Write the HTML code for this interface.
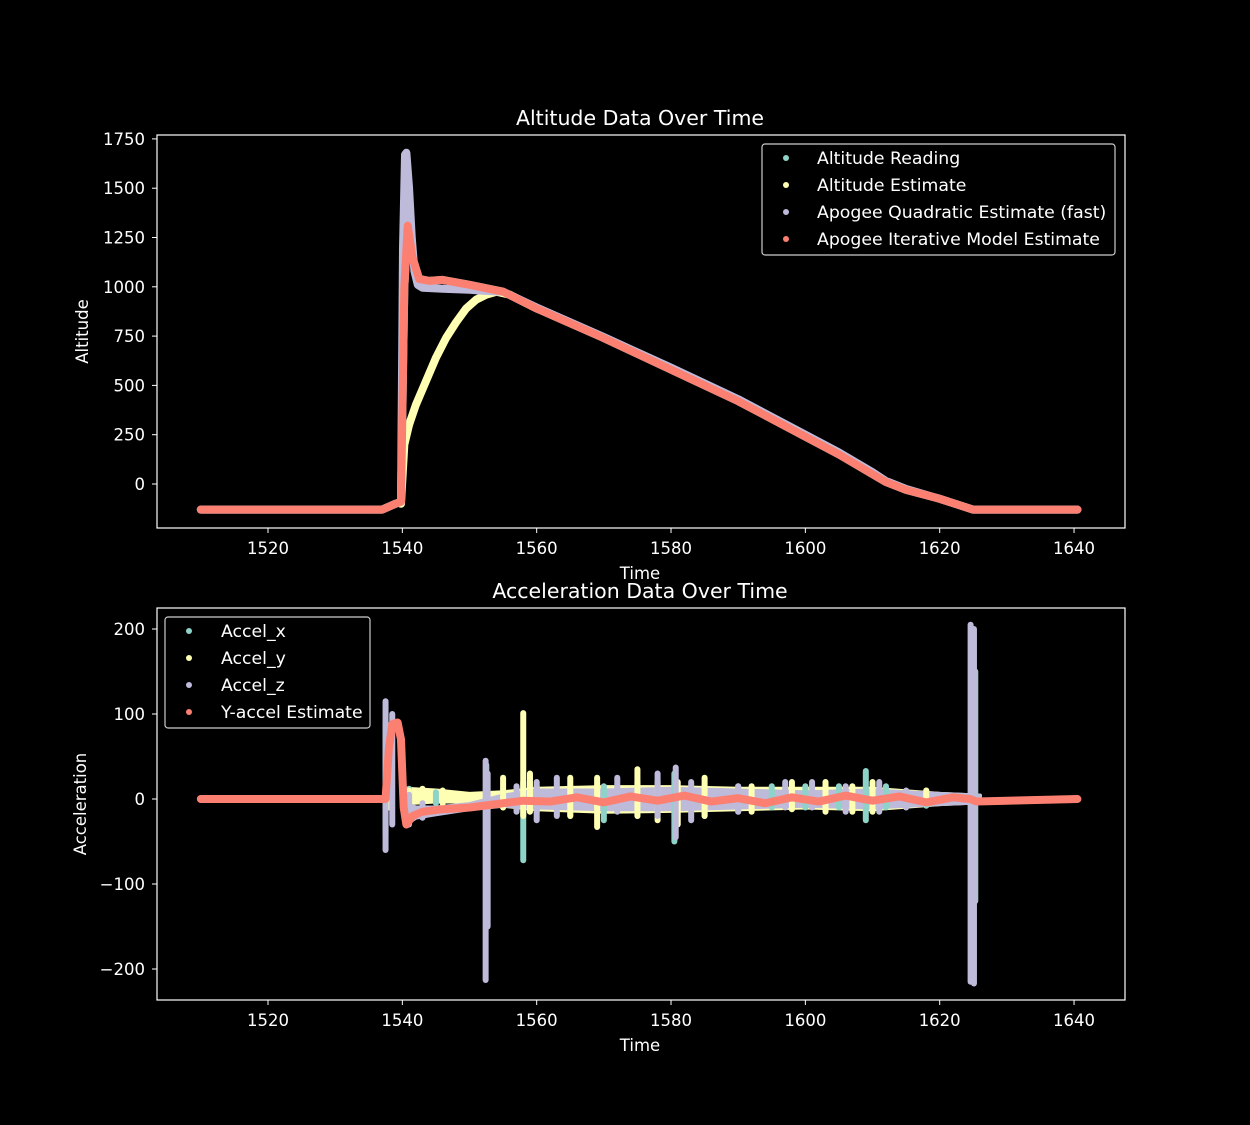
<!DOCTYPE html>
<html><head><meta charset="utf-8"><style>
html,body{margin:0;padding:0;background:#000}
svg{display:block}
text{font-family:"DejaVu Sans","Liberation Sans",sans-serif;fill:#fff}
</style></head><body>
<svg id="fig" width="1250" height="1125" viewBox="0 0 1250 1125">
<rect width="1250" height="1125" fill="#000"/>
</svg>
<script>
// ---- data ----
const xTicks=[1520,1540,1560,1580,1600,1620,1640];
const altTicks=[0,250,500,750,1000,1250,1500,1750];
const accTicks=[-200,-100,0,100,200];
const altReadingT=[1510,1537,1539,1539.8,1540.3,1540.8,1541.5,1542.5,1544,1546,1550,1555,1560,1570,1580,1590,1600,1605,1610,1612,1615,1620,1625,1640.5];
const altReadingV=[-130,-130,-100,-90,1000,1300,1150,1040,1030,1035,1010,975,890,740,580,420,240,150,50,10,-30,-75,-130,-130];
const altEstT=[1539.8,1540.3,1541,1542,1543.5,1545,1546.5,1548,1549.5,1551,1552.5,1554,1556,1560];
const altEstV=[-100,200,300,400,520,640,740,820,890,935,960,975,960,890];
const quadT=[1510,1537,1539,1539.8,1540.1,1540.4,1540.6,1541,1541.4,1541.8,1542.3,1543,1546,1550,1552,1555,1560,1570,1580,1590,1600,1605,1610,1612,1615,1620,1625,1640.5];
const quadV=[-130,-130,-100,-90,1200,1670,1680,1500,1250,1080,1010,995,990,985,980,975,895,745,590,430,250,160,60,15,-25,-75,-130,-130];
const iterT=[1510,1537,1539,1539.8,1540.3,1540.8,1541.5,1542.5,1544,1546,1550,1555,1560,1570,1580,1590,1600,1605,1610,1612,1615,1620,1625,1640.5];
const iterV=[-130,-130,-100,-90,1000,1310,1150,1040,1030,1035,1010,975,890,740,580,420,240,150,50,10,-30,-75,-130,-130];
// acceleration streaks: time, min, max
const axT=[1537.5,1541,1545,1552.5,1555,1558,1560,1565,1570,1575,1580.5,1585,1590,1595,1600,1605,1609,1612,1618,1624.8,1625.3];
const axMin=[-42,-8,-5,-30,-10,-72,-15,-20,-25,-20,-50,-20,-15,-10,-10,-10,-25,-10,-8,-205,-120];
const axMax=[90,12,8,40,10,20,15,15,15,20,30,15,15,15,15,15,33,15,10,180,150];
const ayT=[1538,1541,1543,1546,1552.5,1555,1558,1559,1565,1569,1575,1578,1581,1585,1592,1598,1603,1607,1610,1618,1625];
const ayMin=[-10,-10,-8,-5,-60,-10,-20,-15,-20,-33,-20,-25,-30,-20,-15,-12,-15,-15,-15,-5,-190];
const ayMax=[60,10,12,10,30,25,101,30,25,25,35,20,20,25,15,20,20,15,20,10,190];
const azT=[1537.5,1538.5,1541,1543,1552.4,1552.7,1557,1560,1563,1572,1578,1580.7,1583,1590,1597,1601,1606,1611,1615,1624.6,1625.1];
const azMin=[-60,-30,-30,-22,-213,-150,-15,-25,-20,-15,-20,-45,-25,-15,-10,-10,-15,-15,-10,-215,-217];
const azMax=[115,100,5,-5,45,30,15,20,25,25,30,37,20,15,20,20,15,20,10,205,200];
// dense noise bands: time, low, high
const bandYT=[1540.5,1545,1550,1555,1560,1570,1580,1590,1600,1610,1620,1626];
const bandYLo=[-5,-3,-3,-8,-12,-15,-14,-12,-10,-12,-6,-4];
const bandYHi=[12,10,6,8,12,14,14,12,12,12,6,4];
const bandZT=[1540.5,1542,1545,1550,1555,1560,1570,1580,1590,1600,1610,1620,1626];
const bandZLo=[-30,-22,-18,-12,-8,-10,-12,-12,-10,-8,-10,-6,-4];
const bandZHi=[-5,-10,-10,-6,4,10,10,12,10,8,10,6,4];
const estT=[1510,1537.5,1538,1538.5,1539.3,1539.8,1540.2,1540.6,1541.5,1543,1546,1550,1555,1558,1562,1566,1570,1574,1578,1582,1586,1590,1594,1598,1602,1606,1610,1614,1618,1622,1624.5,1625.5,1640.5];
const estV=[0,0,60,88,90,70,-10,-30,-20,-15,-12,-10,-5,-2,-3,2,-4,3,-2,4,-3,1,-5,2,-3,4,-2,3,-4,2,0,-3,0];

const NS='http://www.w3.org/2000/svg';
const svg=document.getElementById('fig');
function el(tag,attrs,parent){const e=document.createElementNS(NS,tag);for(const k in attrs)e.setAttribute(k,attrs[k]);(parent||svg).appendChild(e);return e;}
const X=v=>268+(v-1520)*6.717;
const Ya=v=>484-v*0.1972;
const Yb=v=>799-v*0.85;
const C={teal:'#8dd3c7',yel:'#ffffb3',lav:'#bebada',sal:'#fb8072'};

function axes(name){
  const g=el('g',{});
  
  
  return g;
}
function frame(g,top,bot,ticks,Y,title,ylabel,ylx){
  const r=el('rect',{x:157,y:top,width:968,height:bot-top,fill:'none',stroke:'#fff','stroke-width':1.2},g);
  
  
  xTicks.forEach(t=>{
    el('line',{x1:X(t),x2:X(t),y1:bot,y2:bot+5,stroke:'#fff'},g);
    const tx=el('text',{x:X(t),y:bot+26,'text-anchor':'middle','font-size':16.5},g);tx.textContent=t;
    
    
  });
  ticks.forEach(t=>{
    el('line',{x1:152,x2:157,y1:Y(t),y2:Y(t),stroke:'#fff'},g);
    const tx=el('text',{x:145,y:Y(t)+6,'text-anchor':'end','font-size':16.5},g);tx.textContent=t<0?'\u2212'+(-t):t;
    
    
  });
  const ti=el('text',{x:640,y:top-10,'text-anchor':'middle','font-size':20.5},g);ti.textContent=title;
  
  
  const xl=el('text',{x:640,y:bot+51,'text-anchor':'middle','font-size':16.5},g);xl.textContent='Time';
  
  
  const yl=el('text',{x:ylx,y:(top+bot)/2,'text-anchor':'middle','font-size':16.5,transform:`rotate(-90 ${ylx} ${(top+bot)/2})`},g);yl.textContent=ylabel;
  
  
}
function series(g,T,V,Y,color,name,w){
  const p=el('polyline',{points:T.map((t,i)=>X(t)+','+Y(V[i])).join(' '),fill:'none',stroke:color,'stroke-width':w||8,'stroke-linejoin':'round','stroke-linecap':'round'},g);
  
  
}
function band(g,T,lo,hi,color,name){
  const pts=T.map((t,i)=>X(t)+','+Yb(hi[i])).concat(T.slice().reverse().map((t,j)=>X(t)+','+Yb(lo[T.length-1-j])));
  const p=el('polygon',{points:pts.join(' '),fill:color,stroke:color,'stroke-width':4,'stroke-linejoin':'round'},g);
  
  
}
function streaks(g,T,mn,mx,color,name){
  const gg=el('g',{},g);
  
  
  T.forEach((t,i)=>{
    el('line',{x1:X(t),x2:X(t),y1:Yb(mn[i]),y2:Yb(mx[i]),stroke:color,'stroke-width':6,'stroke-linecap':'round'},gg);
  });
}
function legend(g,x,y,w,h,items,mx,tx){
  const lg=el('g',{},g);
  
  
  el('rect',{x:x,y:y,width:w,height:h,rx:3,fill:'#000',stroke:'#ccc','stroke-width':1.2},lg);
  items.forEach((it,i)=>{
    const cy=y+14+i*27;
    el('circle',{cx:mx,cy:cy,r:3,fill:it[1]},lg);
    const t=el('text',{x:tx,y:cy+6,'font-size':17.3},lg);t.textContent=it[0];
    
    
  });
}
// top
const g1=axes('altitude-chart');
frame(g1,135,528,altTicks,Ya,'Altitude Data Over Time','Altitude',88);
series(g1,altReadingT,altReadingV,Ya,C.teal,'altitude-reading');
series(g1,altEstT,altEstV,Ya,C.yel,'altitude-estimate');
series(g1,quadT,quadV,Ya,C.lav,'apogee-quadratic');
series(g1,iterT,iterV,Ya,C.sal,'apogee-iterative');
legend(g1,762,144,353,111,[['Altitude Reading',C.teal],['Altitude Estimate',C.yel],['Apogee Quadratic Estimate (fast)',C.lav],['Apogee Iterative Model Estimate',C.sal]],786,817);
// bottom
const g2=axes('acceleration-chart');
frame(g2,608,1000,accTicks,Yb,'Acceleration Data Over Time','Acceleration',86);
band(g2,bandYT,bandYLo,bandYHi,C.yel,'accel-y-band');
band(g2,bandZT,bandZLo,bandZHi,C.lav,'accel-z-band');
streaks(g2,axT,axMin,axMax,C.teal,'accel-x');
streaks(g2,ayT,ayMin,ayMax,C.yel,'accel-y');
streaks(g2,azT,azMin,azMax,C.lav,'accel-z');
series(g2,estT,estV,Yb,C.sal,'y-accel-estimate');
legend(g2,165,617,205,111,[['Accel_x',C.teal],['Accel_y',C.yel],['Accel_z',C.lav],['Y-accel Estimate',C.sal]],189,221);
</script>
</body></html>
